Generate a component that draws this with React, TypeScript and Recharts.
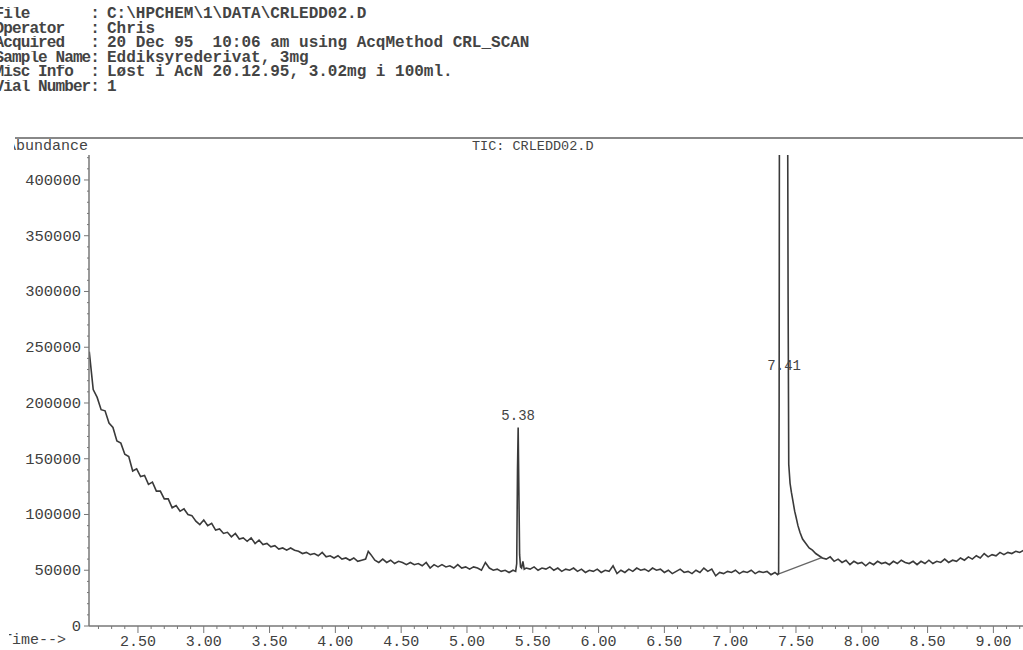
import { LineChart, Line, XAxis, YAxis, ReferenceDot } from 'recharts';

// GC-MS total ion chromatogram, CRLEDD02.D
// abundance is kept in thousands (k) -> axis labels are multiplied back by 1000

const MONO = '"Liberation Mono", "Courier New", monospace';
const INK = '#3a3a3a';
const AXIS = '#777';

const HEADER_LABELS = ['File       :', 'Operator   :', 'Acquired   :', 'Sample Name:', 'Misc Info  :', 'Vial Number:'];
const HEADER_VALUES = [
  'C:\\HPCHEM\\1\\DATA\\CRLEDD02.D',
  'Chris',
  '20 Dec 95  10:06 am using AcqMethod CRL_SCAN',
  'Eddiksyrederivat, 3mg',
  'Løst i AcN 20.12.95, 3.02mg i 100ml.',
  '1',
];

// [time (min), abundance (k)]
const TRACE_EARLY: [number, number][] = [
  [2.13, 246], [2.16, 212], [2.19, 205], [2.22, 194], [2.25, 193], [2.28, 182], [2.31, 178], [2.34, 166],
  [2.37, 164], [2.40, 154], [2.43, 152], [2.46, 139], [2.49, 141], [2.52, 134], [2.55, 135], [2.58, 127],
  [2.61, 129], [2.64, 121], [2.67, 121], [2.70, 114], [2.73, 114], [2.76, 106], [2.79, 108], [2.82, 103],
  [2.85, 105], [2.88, 100], [2.91, 99], [2.94, 94], [2.97, 91], [3.00, 95], [3.03, 90], [3.06, 92],
  [3.09, 86], [3.12, 87], [3.15, 83], [3.18, 84], [3.21, 80], [3.24, 83], [3.27, 78], [3.30, 79],
  [3.33, 76], [3.36, 79], [3.39, 74], [3.42, 77], [3.45, 73], [3.48, 74], [3.51, 71], [3.54, 72],
  [3.57, 69], [3.60, 70], [3.63, 68], [3.66, 70], [3.69, 68], [3.72, 67], [3.75, 65], [3.78, 66],
  [3.81, 64], [3.84, 65], [3.87, 63], [3.90, 66], [3.93, 62], [3.96, 63], [3.99, 61], [4.02, 63],
  [4.05, 60], [4.08, 61], [4.11, 59], [4.14, 61], [4.17, 58], [4.20, 59], [4.23, 60], [4.25, 67],
  [4.27, 64], [4.30, 59], [4.33, 57], [4.36, 60], [4.39, 57], [4.42, 59], [4.45, 56], [4.48, 58],
  [4.51, 57], [4.54, 55], [4.57, 57], [4.60, 55], [4.63, 56], [4.66, 54], [4.69, 57], [4.72, 52],
  [4.75, 55], [4.78, 53], [4.81, 55], [4.84, 53], [4.87, 54], [4.90, 52], [4.93, 55], [4.96, 52],
  [4.99, 53], [5.02, 51], [5.05, 53], [5.08, 52], [5.11, 50], [5.14, 57], [5.17, 52], [5.20, 50],
  [5.23, 51], [5.26, 49], [5.29, 50], [5.32, 48], [5.35, 50],
];

const PEAK_538: [number, number][] = [
  [5.37, 49], [5.378, 56], [5.384, 140], [5.389, 178], [5.394, 125], [5.40, 64], [5.407, 53],
  [5.415, 52], [5.425, 58], [5.435, 51],
];

const TRACE_MID: [number, number][] = [
  [5.45, 52], [5.48, 51], [5.51, 53], [5.54, 50], [5.57, 52], [5.60, 51], [5.63, 53], [5.66, 50],
  [5.69, 52], [5.72, 49], [5.75, 51], [5.78, 50], [5.81, 52], [5.84, 49], [5.87, 51], [5.90, 48],
  [5.93, 50], [5.96, 49], [5.99, 51], [6.02, 48], [6.05, 50], [6.08, 49], [6.11, 54], [6.14, 47],
  [6.17, 50], [6.20, 48], [6.23, 51], [6.26, 49], [6.29, 52], [6.32, 50], [6.35, 51], [6.38, 49],
  [6.41, 52], [6.44, 50], [6.47, 51], [6.50, 48], [6.53, 50], [6.56, 47], [6.59, 49], [6.62, 51],
  [6.65, 48], [6.68, 49], [6.71, 47], [6.74, 50], [6.77, 48], [6.80, 52], [6.83, 49], [6.86, 51],
  [6.89, 45], [6.92, 48], [6.95, 47], [6.98, 49], [7.01, 48], [7.04, 50], [7.07, 47], [7.10, 49],
  [7.13, 48], [7.16, 50], [7.19, 47], [7.22, 49], [7.25, 48], [7.28, 49], [7.31, 46], [7.34, 48],
  [7.36, 46],
];

// off-scale peak, flat top is clipped by the axis
const PEAK_741: [number, number][] = [
  [7.368, 47], [7.372, 200], [7.374, 440], [7.437, 440], [7.44, 300], [7.445, 145], [7.455, 128],
  [7.465, 120], [7.477, 112], [7.49, 103], [7.50, 98], [7.515, 90], [7.53, 84], [7.55, 78],
  [7.575, 74], [7.60, 70], [7.625, 68], [7.65, 65], [7.675, 63], [7.70, 61],
];

const TRACE_LATE: [number, number][] = [
  [7.73, 60], [7.76, 62], [7.79, 58], [7.82, 60], [7.85, 57], [7.88, 59], [7.91, 55], [7.94, 58],
  [7.97, 56], [8.00, 57], [8.03, 54], [8.06, 57], [8.09, 55], [8.12, 58], [8.15, 56], [8.18, 57],
  [8.21, 55], [8.24, 58], [8.27, 56], [8.30, 59], [8.33, 57], [8.36, 56], [8.39, 58], [8.42, 55],
  [8.45, 58], [8.48, 56], [8.51, 59], [8.54, 56], [8.57, 58], [8.60, 57], [8.63, 60], [8.66, 57],
  [8.69, 59], [8.72, 58], [8.75, 61], [8.78, 59], [8.81, 62], [8.84, 60], [8.87, 63], [8.90, 61],
  [8.93, 65], [8.96, 62], [8.99, 64], [9.02, 63], [9.05, 66], [9.08, 64], [9.11, 66], [9.14, 65],
  [9.17, 67], [9.20, 66], [9.23, 68],
];

// integration baseline drawn under the 7.41 peak
const BASELINE_741: [number, number][] = [[7.365, 46.5], [7.70, 61.5]];

const PEAK_LABELS = [
  { t: 5.389, v: 178, text: '5.38', pos: 'top' },
  { t: 7.41, v: 234, text: '7.41', pos: 'center' },
];

const X_TICKS = [
  2.2, 2.3, 2.4, 2.5, 2.6, 2.7, 2.8, 2.9, 3.0, 3.1, 3.2, 3.3, 3.4, 3.5, 3.6, 3.7, 3.8, 3.9,
  4.0, 4.1, 4.2, 4.3, 4.4, 4.5, 4.6, 4.7, 4.8, 4.9, 5.0, 5.1, 5.2, 5.3, 5.4, 5.5, 5.6, 5.7,
  5.8, 5.9, 6.0, 6.1, 6.2, 6.3, 6.4, 6.5, 6.6, 6.7, 6.8, 6.9, 7.0, 7.1, 7.2, 7.3, 7.4, 7.5,
  7.6, 7.7, 7.8, 7.9, 8.0, 8.1, 8.2, 8.3, 8.4, 8.5, 8.6, 8.7, 8.8, 8.9, 9.0, 9.1, 9.2,
];

const Y_TICKS = [
  0, 10, 20, 30, 40, 50, 60, 70, 80, 90, 100, 110, 120, 130, 140, 150, 160, 170, 180, 190, 200,
  210, 220, 230, 240, 250, 260, 270, 280, 290, 300, 310, 320, 330, 340, 350, 360, 370, 380, 390,
  400, 410, 420,
];

const toRows = (pts: [number, number][]) => pts.map(([t, v]) => ({ t, v }));

const trace = toRows([...TRACE_EARLY, ...PEAK_538, ...TRACE_MID, ...PEAK_741, ...TRACE_LATE]);
const baseline = toRows(BASELINE_741);

const isMajorX = (v: number) => Math.abs(v * 2 - Math.round(v * 2)) < 1e-6;
const isMajorY = (v: number) => v % 50 === 0;

function XTick({ x, y, payload }: any) {
  const major = isMajorX(payload.value);
  return (
    <g>
      <line x1={x} y1={y} x2={x} y2={y + (major ? 7 : 3)} stroke={AXIS} strokeWidth={1} />
      {major && (
        <text x={x} y={y + 20} textAnchor="middle" fontFamily={MONO} fontSize={15} fill="#404040">
          {payload.value.toFixed(2)}
        </text>
      )}
    </g>
  );
}

function YTick({ x, y, payload }: any) {
  const major = isMajorY(payload.value);
  return (
    <g>
      <line x1={x - (major ? 5 : 2)} y1={y} x2={x} y2={y} stroke={AXIS} strokeWidth={1} />
      {major && (
        <text x={x - 8} y={y + 5} textAnchor="end" fontFamily={MONO} fontSize={15.5} fill="#404040">
          {String(payload.value * 1000)}
        </text>
      )}
    </g>
  );
}

export default function App() {
  return (
    <div style={{
      position: 'absolute', left: 0, top: 0, width: 1023, height: 650,
      overflow: 'hidden', background: '#fff', color: INK, fontFamily: MONO,
    }}>
      {/* header labels: right-aligned on the colon, first letter runs off the page edge */}
      {HEADER_LABELS.map((label, i) => (
        <div key={label} style={{
          position: 'absolute', left: 0, top: 7 + i * 14.5, width: 99, height: 16, overflow: 'hidden',
        }}>
          <span style={{
            position: 'absolute', right: 0, top: 0, whiteSpace: 'pre',
            fontSize: 16, lineHeight: '14.5px', fontWeight: 'bold', color: '#444', letterSpacing: -0.9,
          }}>
            {label}
          </span>
        </div>
      ))}
      {HEADER_VALUES.map((value, i) => (
        <div key={i} style={{
          position: 'absolute', left: 107, top: 7 + i * 14.5,
          fontSize: 16, lineHeight: '14.5px', fontWeight: 'bold', color: '#444', whiteSpace: 'pre',
        }}>
          {value}
        </div>
      ))}

      <div style={{ position: 'absolute', left: 15, top: 137, width: 1008, borderTop: '2px solid #888' }} />

      <div style={{ position: 'absolute', left: 14, top: 139, width: 90, overflow: 'hidden' }}>
        <div style={{ marginLeft: -7, fontSize: 15, lineHeight: '16px', color: '#444', whiteSpace: 'pre' }}>
          Abundance
        </div>
      </div>

      <div style={{
        position: 'absolute', left: 472, top: 139, fontSize: 13.5, lineHeight: '16px',
        color: '#444', whiteSpace: 'pre',
      }}>
        TIC: CRLEDD02.D
      </div>

      <div style={{ position: 'absolute', left: 9, top: 633, width: 80, overflow: 'hidden' }}>
        <div style={{ marginLeft: -6, fontSize: 15, lineHeight: '16px', color: '#444', whiteSpace: 'pre' }}>
          Time--&gt;
        </div>
      </div>

      <div style={{ position: 'absolute', left: 0, top: 0 }}>
        <LineChart width={1023} height={650} margin={{ top: 155, right: 0, bottom: 0, left: 0 }}>
          <XAxis
            type="number"
            dataKey="t"
            domain={[2.128, 9.225]}
            ticks={X_TICKS}
            interval={0}
            allowDataOverflow
            height={24}
            tickSize={0}
            tickMargin={0}
            tickLine={false}
            axisLine={{ stroke: AXIS, strokeWidth: 1.5 }}
            tick={<XTick />}
          />
          <YAxis
            type="number"
            dataKey="v"
            domain={[0, 422.4]}
            ticks={Y_TICKS}
            interval={0}
            allowDataOverflow
            width={89}
            tickSize={0}
            tickMargin={0}
            tickLine={false}
            axisLine={{ stroke: AXIS, strokeWidth: 1.5 }}
            tick={<YTick />}
          />
          {PEAK_LABELS.map(p => (
            <ReferenceDot
              key={p.text}
              x={p.t}
              y={p.v}
              r={0}
              fill="none"
              stroke="none"
              label={{ value: p.text, position: p.pos as any, offset: 8, fill: '#444', fontSize: 14, fontFamily: MONO }}
            />
          ))}
          <Line
            data={baseline}
            dataKey="v"
            type="linear"
            stroke="#666"
            strokeWidth={1.2}
            dot={false}
            isAnimationActive={false}
          />
          <Line
            data={trace}
            dataKey="v"
            type="linear"
            stroke={INK}
            strokeWidth={1.6}
            dot={false}
            isAnimationActive={false}
          />
        </LineChart>
      </div>
    </div>
  );
}
